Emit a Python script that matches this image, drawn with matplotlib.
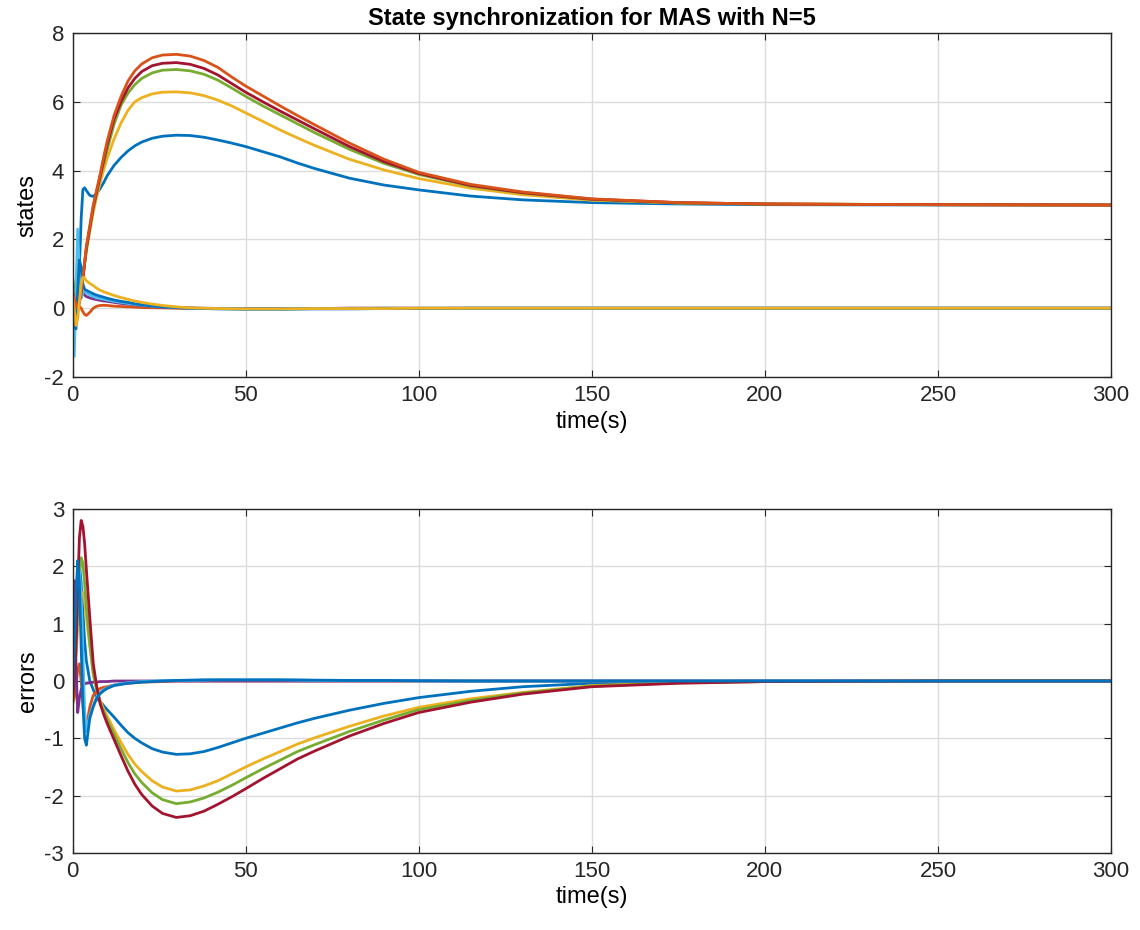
import numpy as np
import matplotlib
matplotlib.use("Agg")
import matplotlib.pyplot as plt

plt.rcParams['font.family'] = ['Liberation Sans Narrow', 'Liberation Sans', 'DejaVu Sans']
plt.rcParams['axes.unicode_minus'] = False

# MATLAB default colour order
BLUE = '#0072BD'
ORANGE = '#D95319'
YELLOW = '#EDB120'
PURPLE = '#7E2F8E'
GREEN = '#77AC30'
LBLUE = '#4DBEEE'
DRED = '#A2142F'

t = [0, 0.5, 1, 1.5, 2, 2.5, 3, 3.5, 4,
     5, 6, 7, 8, 9, 10,
     12, 14, 16, 18, 20,
     23, 26, 30, 34, 38, 42, 46, 50,
     55, 60, 65, 70,
     80, 90, 100,
     115, 130, 150, 175,
     200, 250, 300]

# states (upper plot)
blue_up = [0.5, 0.2, 0.3, 0.6, 1.2, 2.6, 3.45, 3.5, 3.42,
           3.28, 3.25, 3.33, 3.48, 3.65, 3.85,
           4.15, 4.38, 4.57, 4.72, 4.83,
           4.94, 5.0, 5.03, 5.02, 4.97, 4.89, 4.8, 4.7,
           4.55, 4.4, 4.22, 4.06,
           3.78, 3.58, 3.44,
           3.26, 3.15, 3.07, 3.03,
           3.01, 3.0, 3.0]
orange_up = [0.5, 0.3, 0.1, 0.0, 0.2, 0.5, 0.9, 1.35, 1.8,
             2.4, 3.0, 3.45, 3.9, 4.4, 4.85,
             5.6, 6.15, 6.6, 6.9, 7.1,
             7.28, 7.36, 7.38, 7.33, 7.2, 7.0, 6.72, 6.46,
             6.17, 5.88, 5.6, 5.33,
             4.8, 4.33, 3.95,
             3.6, 3.38, 3.18, 3.07,
             3.03, 3.01, 3.0]
dred_up = [0.4, 0.2, 0.05, 0.0, 0.15, 0.45, 0.85, 1.3, 1.75,
           2.35, 2.95, 3.4, 3.85, 4.3, 4.75,
           5.5, 6.0, 6.4, 6.68, 6.88,
           7.05, 7.12, 7.14, 7.09, 6.97, 6.78, 6.53, 6.28,
           6.0, 5.73, 5.47, 5.21,
           4.7, 4.26, 3.92,
           3.57, 3.36, 3.17, 3.07,
           3.03, 3.01, 3.0]
green_up = [0.3, 0.5, 0.8, 1.2, 1.0, 0.7, 0.9, 1.3, 1.7,
            2.3, 2.9, 3.35, 3.8, 4.2, 4.6,
            5.35, 5.9, 6.25, 6.5, 6.68,
            6.84, 6.92, 6.94, 6.9, 6.8, 6.63, 6.4, 6.16,
            5.88, 5.62, 5.36, 5.1,
            4.62, 4.21, 3.89,
            3.55, 3.35, 3.16, 3.06,
            3.03, 3.01, 3.0]
yellow_up = [0.3, 0.1, 0.0, 0.1, 0.3, 0.6, 0.95, 1.3, 1.65,
             2.25, 2.8, 3.25, 3.65, 4.02, 4.35,
             4.92, 5.38, 5.75, 6.0, 6.12,
             6.23, 6.28, 6.29, 6.26, 6.18, 6.05, 5.88, 5.68,
             5.43, 5.18, 4.95, 4.73,
             4.33, 4.02, 3.77,
             3.49, 3.3, 3.14, 3.06,
             3.03, 3.01, 3.0]
orange_lo = [0.5, 0.45, 0.25, 0.1, 0.05, 0.0, -0.1, -0.18, -0.21,
             -0.12, 0.0, 0.06, 0.08, 0.085, 0.08,
             0.06, 0.05, 0.04, 0.03, 0.02,
             0.015, 0.01, 0.0, -0.01, -0.01, -0.01, -0.01, -0.01,
             -0.01, -0.01, -0.01, -0.01,
             0, 0, 0,
             0, 0, 0, 0,
             0, 0, 0]
yellow_lo = [0.4, 0.0, -0.5, -0.3, 0.2, 0.7, 0.9, 0.88, 0.8,
             0.72, 0.66, 0.58, 0.52, 0.48, 0.44,
             0.37, 0.31, 0.26, 0.21, 0.17,
             0.12, 0.08, 0.04, 0.01, 0.0, -0.01, -0.015, -0.02,
             -0.02, -0.02, -0.015, -0.01,
             -0.01, -0.01, 0,
             0, 0, 0, 0,
             0, 0, 0]
blue_lo = [0.3, -0.4, -0.6, 0.5, 1.4, 1.2, 0.7, 0.55, 0.52,
           0.47, 0.42, 0.38, 0.35, 0.32, 0.29,
           0.24, 0.2, 0.17, 0.13, 0.1,
           0.07, 0.04, 0.02, 0.0, -0.01, -0.02, -0.025, -0.03,
           -0.03, -0.03, -0.025, -0.02,
           -0.02, -0.01, -0.01,
           0, 0, 0, 0,
           0, 0, 0]
purple_lo = [0.4, 0.5, 0.3, 0.2, 0.4, 0.5, 0.45, 0.38, 0.34,
             0.3, 0.27, 0.25, 0.23, 0.21, 0.2,
             0.17, 0.14, 0.12, 0.1, 0.08,
             0.05, 0.03, 0.02, 0.01, 0.0, -0.005, -0.01, -0.01,
             -0.01, -0.01, -0.01, -0.01,
             0, 0, 0,
             0, 0, 0, 0,
             0, 0, 0]
lblue_lo = [0.3, -1.4, 0.4, 2.3, 1.0, 0.3, 0.45, 0.5, 0.45,
            0.38, 0.34, 0.3, 0.28, 0.26, 0.24,
            0.2, 0.17, 0.14, 0.11, 0.09,
            0.06, 0.04, 0.02, 0.0, -0.01, -0.01, -0.015, -0.02,
            -0.02, -0.02, -0.015, -0.01,
            -0.01, 0, 0,
            0, 0, 0, 0,
            0, 0, 0]

# errors (lower plot)
blue_big = [0.0, 0.5, 1.3, 2.0, 2.05, 1.7, 1.2, 0.7, 0.35,
            0.0, -0.15, -0.3, -0.36, -0.43, -0.5,
            -0.63, -0.77, -0.9, -1.0, -1.08,
            -1.18, -1.24, -1.28, -1.27, -1.23, -1.16, -1.08, -1.0,
            -0.91, -0.82, -0.73, -0.65,
            -0.51, -0.39, -0.29,
            -0.18, -0.1, -0.04, -0.01,
            0, 0, 0]
yellow_big = [0.0, 0.2, 0.5, 0.9, 1.3, 1.5, 1.55, 1.4, 1.1,
              0.6, 0.1, -0.15, -0.35, -0.49, -0.61,
              -0.85, -1.07, -1.28, -1.45, -1.58,
              -1.74, -1.85, -1.92, -1.9, -1.83, -1.74, -1.62, -1.5,
              -1.36, -1.23, -1.1, -0.99,
              -0.79, -0.61, -0.46,
              -0.31, -0.2, -0.08, -0.03,
              -0.01, 0, 0]
green_big = [0.0, 0.3, 0.7, 1.3, 1.9, 2.15, 2.05, 1.7, 1.3,
             0.65, 0.15, -0.15, -0.38, -0.53, -0.67,
             -0.93, -1.18, -1.42, -1.62, -1.77,
             -1.95, -2.07, -2.14, -2.11, -2.04, -1.94, -1.82, -1.69,
             -1.53, -1.38, -1.23, -1.11,
             -0.88, -0.68, -0.5,
             -0.34, -0.21, -0.09, -0.03,
             -0.01, 0, 0]
dred_big = [-0.3, 0.0, 0.5, 1.6, 2.5, 2.8, 2.7, 2.4, 1.95,
            1.1, 0.3, -0.1, -0.4, -0.58, -0.74,
            -1.02, -1.3, -1.57, -1.8, -1.98,
            -2.18, -2.31, -2.38, -2.35, -2.27, -2.15, -2.02, -1.88,
            -1.7, -1.53, -1.36, -1.22,
            -0.96, -0.74, -0.55,
            -0.37, -0.23, -0.1, -0.04,
            -0.01, 0, 0]
orange_near = [-0.4, -0.3, -0.1, 0.2, 0.3, 0.0, -0.4, -0.7, -0.8,
               -0.45, -0.25, -0.17, -0.13, -0.11, -0.1,
               -0.07, -0.05, -0.04, -0.03, -0.02,
               -0.015, -0.01, 0, 0, 0, 0, 0, 0,
               0, 0, 0, 0,
               0, 0, 0,
               0, 0, 0, 0,
               0, 0, 0]
purple_near = [1.0, 1.75, 0.3, -0.55, -0.3, -0.15, -0.08, -0.05, -0.04,
               -0.03, -0.02, -0.02, -0.01, -0.01, -0.01,
               0, 0, 0, 0, 0,
               0, 0, 0, 0, 0, 0, 0, 0,
               0, 0, 0, 0,
               0, 0, 0,
               0, 0, 0, 0,
               0, 0, 0]
lblue_near = [0.2, 0.6, 1.2, 1.7, 1.9, 1.5, 0.5, -0.5, -0.88,
              -0.6, -0.42, -0.28, -0.2, -0.15, -0.12,
              -0.07, -0.05, -0.03, -0.02, -0.01,
              0.0, 0.005, 0.01, 0.01, 0.015, 0.02, 0.02, 0.02,
              0.02, 0.02, 0.015, 0.01,
              0.01, 0.01, 0,
              0, 0, 0, 0,
              0, 0, 0]
blue_near = [-0.3, 0.5, 1.4, 2.1, 1.7, 0.6, -0.4, -1.0, -1.12,
             -0.65, -0.45, -0.3, -0.22, -0.17, -0.13,
             -0.08, -0.06, -0.04, -0.03, -0.02,
             -0.01, 0.0, 0.01, 0.015, 0.02, 0.02, 0.02, 0.02,
             0.02, 0.02, 0.018, 0.015,
             0.01, 0.01, 0.005,
             0, 0, 0, 0,
             0, 0, 0]

states = [(blue_up, BLUE), (orange_lo, ORANGE), (yellow_up, YELLOW),
          (purple_lo, PURPLE), (green_up, GREEN), (lblue_lo, LBLUE),
          (dred_up, DRED), (blue_lo, BLUE), (orange_up, ORANGE),
          (yellow_lo, YELLOW)]
errors = [(blue_big, BLUE), (orange_near, ORANGE), (yellow_big, YELLOW),
          (purple_near, PURPLE), (green_big, GREEN), (lblue_near, LBLUE),
          (dred_big, DRED), (blue_near, BLUE)]


def style_axes(ax, ylim, yticks, ylabel):
    ax.set_xlim(0, 300)
    ax.set_ylim(*ylim)
    ax.set_xticks(range(0, 301, 50))
    ax.set_yticks(yticks)
    ax.grid(True, color='#dcdcdc', linewidth=1.0)
    ax.set_axisbelow(True)
    ax.tick_params(direction='in', top=True, right=True, length=5,
                   labelsize=16, colors='#262626', pad=6)
    for s in ax.spines.values():
        s.set_color('#262626')
        s.set_linewidth(1.0)
    ax.set_xlabel('time(s)', fontsize=17, labelpad=3)
    ax.set_ylabel(ylabel, fontsize=17, labelpad=4)


fig = plt.figure(figsize=(11.4, 9.3), dpi=100)
ax1 = fig.add_axes([0.0636, 0.5946, 0.9110, 0.3699])
ax2 = fig.add_axes([0.0636, 0.0828, 0.9110, 0.3699])

for vals, c in states:
    ax1.plot(t, vals, color=c, lw=2.0)
for vals, c in errors:
    ax2.plot(t, vals, color=c, lw=2.0)

style_axes(ax1, (-2, 8), range(-2, 9, 2), 'states')
style_axes(ax2, (-3, 3), range(-3, 4, 1), 'errors')
ax1.set_title('State synchronization for MAS with N=5', fontsize=17,
              fontweight='bold', pad=6)

fig.savefig('out.png', dpi=100)
